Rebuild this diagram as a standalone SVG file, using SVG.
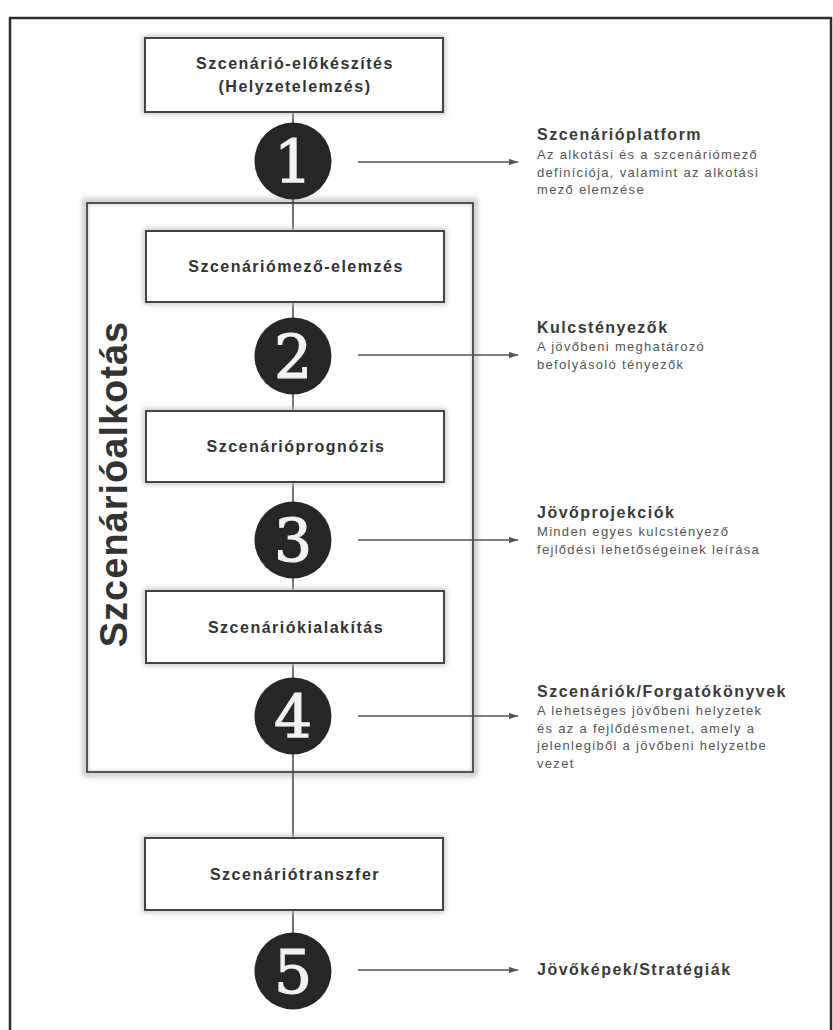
<svg xmlns="http://www.w3.org/2000/svg" width="833" height="1030" viewBox="0 0 833 1030">
<style>
.frame{fill:none;stroke:#2e2e2e;stroke-width:2.5}
.box{fill:#fff;stroke:#444;stroke-width:2}
.big{fill:none;stroke:#444;stroke-width:1.8}
.shadow{fill:none;stroke:#c4c4c4;stroke-width:5;filter:url(#blur)}
.btxt{font-family:"Liberation Sans",Arial,sans-serif;font-weight:bold;font-size:16px;letter-spacing:1.5px;fill:#333;text-anchor:middle}
.num{font-family:"DejaVu Serif","Liberation Serif",serif;font-size:60px;fill:#f2f2f2;stroke:#f2f2f2;stroke-width:1.2;text-anchor:middle}
.circ{fill:#262626}
.conn{stroke:#444;stroke-width:1.5;fill:none}
.arr{stroke:#555;stroke-width:1.6;fill:none;marker-end:url(#ah)}
.ttl{font-family:"Liberation Sans",Arial,sans-serif;font-weight:bold;font-size:16px;letter-spacing:1.5px;fill:#3a3a3a}
.body{font-family:"Liberation Sans",Arial,sans-serif;font-size:13px;letter-spacing:1.3px;fill:#555}
.vert{font-family:"Liberation Sans",Arial,sans-serif;font-weight:bold;font-size:38px;letter-spacing:1px;fill:#333;text-anchor:middle}
</style>
<defs>
<filter id="blur" x="-10%" y="-10%" width="120%" height="120%"><feGaussianBlur stdDeviation="2.5"/></filter>
<marker id="ah" markerWidth="10" markerHeight="8" refX="9" refY="4" orient="auto" markerUnits="userSpaceOnUse">
<path d="M0,0.8 L9,4 L0,7.2 Z" fill="#555"/>
</marker>
</defs>
<rect width="833" height="1030" fill="#fff"/>
<path class="frame" d="M10,1032 V18 H831 V1032"/>

<g id="scenario-creation">
<rect class="shadow" x="85" y="201" width="390" height="573"/>
<rect class="big" x="87" y="203" width="386" height="569"/>
<text class="vert" transform="translate(127,484) rotate(-90)">Szcenárióalkotás</text>
</g>

<g id="connectors">
<line class="conn" x1="293" y1="112" x2="293" y2="231"/>
<line class="conn" x1="293" y1="302" x2="293" y2="411"/>
<line class="conn" x1="293" y1="482" x2="293" y2="591"/>
<line class="conn" x1="293" y1="663" x2="293" y2="838"/>
<line class="conn" x1="293" y1="910" x2="293" y2="935"/>
<line class="arr" x1="358" y1="162" x2="518" y2="162"/>
<line class="arr" x1="358" y1="355" x2="518" y2="355"/>
<line class="arr" x1="358" y1="540" x2="518" y2="540"/>
<line class="arr" x1="358" y1="716" x2="518" y2="716"/>
<line class="arr" x1="358" y1="970" x2="518" y2="970"/>
</g>

<g id="box-preparation">
<rect class="shadow" x="145" y="38" width="298" height="74"/>
<rect class="box" x="145" y="38" width="298" height="74"/>
<text class="btxt" x="295" y="69">Szcenárió-előkészítés</text>
<text class="btxt" x="295" y="92">(Helyzetelemzés)</text>
</g>

<g id="step-1">
<circle class="circ" cx="293" cy="161" r="38.5"/>
<text class="num" x="293" y="183">1</text>
</g>

<g id="box-field-analysis">
<rect class="shadow" x="146" y="231" width="298" height="71"/>
<rect class="box" x="146" y="231" width="298" height="71"/>
<text class="btxt" x="296" y="272">Szcenáriómező-elemzés</text>
</g>

<g id="step-2">
<circle class="circ" cx="293" cy="356" r="38.5"/>
<text class="num" x="293" y="378">2</text>
</g>

<g id="box-prognosis">
<rect class="shadow" x="146" y="411" width="298" height="71"/>
<rect class="box" x="146" y="411" width="298" height="71"/>
<text class="btxt" x="296" y="452">Szcenárióprognózis</text>
</g>

<g id="step-3">
<circle class="circ" cx="293" cy="540" r="38.5"/>
<text class="num" x="293" y="562">3</text>
</g>

<g id="box-design">
<rect class="shadow" x="146" y="591" width="298" height="72"/>
<rect class="box" x="146" y="591" width="298" height="72"/>
<text class="btxt" x="296" y="633">Szcenáriókialakítás</text>
</g>

<g id="step-4">
<circle class="circ" cx="293" cy="716" r="38.5"/>
<text class="num" x="293" y="738">4</text>
</g>

<g id="box-transfer">
<rect class="shadow" x="145" y="838" width="298" height="72"/>
<rect class="box" x="145" y="838" width="298" height="72"/>
<text class="btxt" x="295" y="880">Szcenáriótranszfer</text>
</g>

<g id="step-5">
<circle class="circ" cx="293" cy="971" r="38.5"/>
<text class="num" x="293" y="993">5</text>
</g>

<g id="label-1">
<text class="ttl" x="537" y="140">Szcenárióplatform</text>
<text class="body" x="537" y="159">Az alkotási és a szcenáriómező</text>
<text class="body" x="537" y="176.5">definíciója, valamint az alkotási</text>
<text class="body" x="537" y="194">mező elemzése</text>
</g>

<g id="label-2">
<text class="ttl" x="537" y="333">Kulcstényezők</text>
<text class="body" x="537" y="351">A jövőbeni meghatározó</text>
<text class="body" x="537" y="368.5">befolyásoló tényezők</text>
</g>

<g id="label-3">
<text class="ttl" x="537" y="518">Jövőprojekciók</text>
<text class="body" x="537" y="536">Minden egyes kulcstényező</text>
<text class="body" x="537" y="553.5">fejlődési lehetőségeinek leírása</text>
</g>

<g id="label-4">
<text class="ttl" x="537" y="697">Szcenáriók/Forgatókönyvek</text>
<text class="body" x="537" y="715">A lehetséges jövőbeni helyzetek</text>
<text class="body" x="537" y="732.5">és az a fejlődésmenet, amely a</text>
<text class="body" x="537" y="750">jelenlegiből a jövőbeni helyzetbe</text>
<text class="body" x="537" y="767.5">vezet</text>
</g>

<g id="label-5">
<text class="ttl" x="537" y="975">Jövőképek/Stratégiák</text>
</g>
</svg>
